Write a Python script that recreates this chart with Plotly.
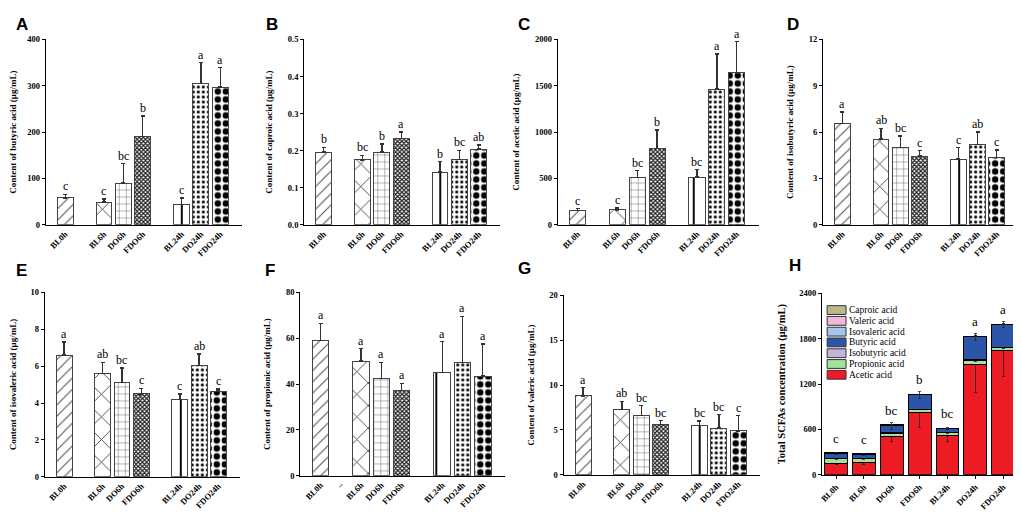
import plotly.graph_objects as go
from plotly.subplots import make_subplots

groups = ['BL0h', 'BL6h', 'DO6h', 'FDO6h', 'BL24h', 'DO24h', 'FDO24h']
slots = [0, 2, 3, 4, 6, 7, 8]

butyric = [58, 49, 90, 190, 44, 305, 297]
butyric_err = [8, 7, 42, 45, 14, 45, 42]
butyric_sig = ['c', 'c', 'bc', 'b', 'c', 'a', 'a']

caproic = [0.196, 0.175, 0.196, 0.232, 0.142, 0.176, 0.204]
caproic_err = [0.013, 0.012, 0.022, 0.018, 0.028, 0.025, 0.011]
caproic_sig = ['b', 'bc', 'b', 'a', 'b', 'bc', 'ab']

acetic = [155, 160, 510, 825, 515, 1465, 1640]
acetic_err = [20, 20, 75, 200, 80, 380, 335]
acetic_sig = ['c', 'c', 'bc', 'b', 'bc', 'a', 'a']

isobutyric = [6.55, 5.55, 5.0, 4.45, 4.25, 5.2, 4.35]
isobutyric_err = [0.75, 0.7, 0.75, 0.35, 0.75, 0.8, 0.5]
isobutyric_sig = ['a', 'ab', 'bc', 'c', 'c', 'ab', 'c']

isovaleric = [6.6, 5.6, 5.1, 4.5, 4.2, 6.05, 4.65]
isovaleric_err = [0.7, 0.6, 0.8, 0.3, 0.3, 0.6, 0.12]
isovaleric_sig = ['a', 'ab', 'bc', 'c', 'c', 'ab', 'c']

propionic = [59, 50, 42.5, 37.3, 45, 49.5, 43.5]
propionic_err = [7.5, 5.5, 7, 3, 13.5, 20, 14]
propionic_sig = ['a', 'a', 'a', 'a', 'a', 'a', 'a']

valeric = [8.8, 7.3, 6.6, 5.6, 5.5, 5.2, 4.9]
valeric_err = [0.9, 0.9, 1.1, 0.45, 0.5, 1.5, 1.7]
valeric_sig = ['a', 'ab', 'bc', 'bc', 'bc', 'bc', 'c']

total_sig = ['c', 'c', 'bc', 'b', 'bc', 'a', 'a']

SERIF = 'Liberation Serif'
SANS = 'Liberation Sans'

# one pattern per group, same order as groups
pat_shape = ['/', 'x', '+', 'x', '|', '.', '.']
pat_size = [8, 16, 7, 3, 16, 5, 8]
pat_solid = [0.14, 0.1, 0.12, 0.65, 0.12, 0.3, 0.5]
pat_fg = ['#555', '#333', '#555', '#222', '#000', '#000', '#000']

panels = [
    ('A', butyric, butyric_err, butyric_sig, 'Content of butyric acid (μg/mL)', [0, 400], 100, None),
    ('B', caproic, caproic_err, caproic_sig, 'Content of caproic acid (μg/mL)', [0, 0.5], 0.1, '.1f'),
    ('C', acetic, acetic_err, acetic_sig, 'Content of acetic acid (μg/mL)', [0, 2000], 500, None),
    ('D', isobutyric, isobutyric_err, isobutyric_sig, 'Content of isobutyric acid (μg/mL)', [0, 12], 3, None),
    ('E', isovaleric, isovaleric_err, isovaleric_sig, 'Content of isovaleric acid (μg/mL)', [0, 10], 2, None),
    ('F', propionic, propionic_err, propionic_sig, 'Content of propionic acid (μg/mL)', [0, 80], 20, None),
    ('G', valeric, valeric_err, valeric_sig, 'Content of valeric acid (μg/mL)', [0, 20], 5, None),
]

# page body has an 8px margin, so the figure is shrunk and shifted by it
OFF = 8
W, H = 1021 - OFF, 519 - OFF


def px(x):
    return (x - OFF) / W


def py(y):
    return 1 - (y - OFF) / H


# plot areas in screen pixels: left, right, top, bottom
boxes = [
    (40, 237, 35, 224), (300, 497, 35, 224), (555, 757, 35, 224), (822, 1018, 35, 224),
    (39, 235, 293, 481), (296, 502, 293, 480), (561, 758, 296, 479), (821, 1017, 294, 479),
]
letter_pos = [(8, 8), (259, 8), (513, 8), (784, 8), (8, 259), (258, 259), (513, 257), (786, 254)]

fig = make_subplots(rows=2, cols=4)

for i, (lab, vals, errs, sig, title, yr, dt, fmt) in enumerate(panels):
    r, c = i // 4 + 1, i % 4 + 1
    fig.add_trace(go.Bar(
        x=slots, y=vals, width=0.82,
        marker=dict(
            color='white',
            line=dict(color='#444', width=1),
            pattern=dict(shape=pat_shape, size=pat_size, solidity=pat_solid,
                         fgcolor=pat_fg, bgcolor='white', fillmode='replace', fgopacity=1),
        ),
        error_y=dict(type='data', symmetric=False, array=errs, arrayminus=[0] * 7,
                     color='#333', thickness=1.4, width=2),
        showlegend=False,
    ), row=r, col=c)
    for s, v, e, t in zip(slots, vals, errs, sig):
        fig.add_annotation(x=s, y=v + e, text=t, showarrow=False, yanchor='bottom', yshift=-1,
                           font=dict(family=SERIF, size=12, color='#000'), row=r, col=c)
    tv, tt = list(slots), list(groups)
    if lab == 'F':
        tv, tt = [0, 1] + slots[1:], ['BL0h', '–'] + groups[1:]
    fig.update_xaxes(range=[-1, 9.1], tickvals=tv, ticktext=tt, tickangle=-45, row=r, col=c)
    fig.update_yaxes(range=yr, dtick=dt, tickformat=fmt,
                     title=dict(text=title, font=dict(family=SERIF, size=9, color='black', weight='bold'),
                                standoff=13),
                     row=r, col=c)

# H: stacked totals
stack = [
    ('Acetic acid', acetic, acetic_err, '#ED1C24'),
    ('Propionic acid', propionic, propionic_err, '#A3E29C'),
    ('Isobutyric acid', isobutyric, isobutyric_err, '#C4B4DA'),
    ('Butyric acid', butyric, butyric_err, '#2B55A8'),
    ('Isovaleric acid', isovaleric, isovaleric_err, '#A4C6EC'),
    ('Valeric acid', valeric, valeric_err, '#F2B8DA'),
    ('Caproic acid', caproic, caproic_err, '#B9B989'),
]
for name, vals, errs, col in stack:
    fig.add_trace(go.Bar(
        x=groups, y=vals, name=name, width=0.82, showlegend=False,
        marker=dict(color=col, line=dict(color='black', width=1)),
        error_y=dict(type='data', array=errs, color='#222', thickness=0.8, width=1.5),
    ), row=2, col=4)

totals = [sum(v[k] for _, v, _, _ in stack) for k in range(7)]
for g, t, s in zip(groups, totals, total_sig):
    fig.add_annotation(x=g, y=t, text=s, showarrow=False, yanchor='bottom', yshift=5,
                       font=dict(family=SERIF, size=13, color='#000'), row=2, col=4)
fig.update_xaxes(tickangle=-45, ticks='outside', ticklen=3, row=2, col=4)
fig.update_yaxes(range=[0, 2400], dtick=600,
                 title=dict(text='Total SCFAs concentration (μg/mL)',
                            font=dict(family=SERIF, size=10.5, color='black', weight='bold'), standoff=11),
                 row=2, col=4)

# hand-drawn legend inside panel H (top item first)
leg_x, leg_y, leg_step = 826, 311, 11
for k, (name, _, _, col) in enumerate(reversed(stack)):
    yc = leg_y + k * leg_step
    fig.add_shape(type='rect', xref='paper', yref='paper',
                  x0=px(leg_x), x1=px(leg_x + 19), y0=py(yc + 4.5), y1=py(yc - 4.5),
                  fillcolor=col, line=dict(color='#333', width=1))
    fig.add_annotation(xref='paper', yref='paper', x=px(leg_x + 20), y=py(yc),
                       text=name, showarrow=False, xanchor='left', yanchor='middle',
                       font=dict(family=SERIF, size=9.5, color='black'))

fig.update_xaxes(showline=True, linecolor='black', linewidth=1.3, showgrid=False, zeroline=False,
                 tickfont=dict(family=SERIF, size=8.5, color='black', weight='bold'),
                 tickcolor='black')
fig.update_yaxes(showline=True, linecolor='black', linewidth=1.3, showgrid=False, zeroline=False,
                 ticks='outside', ticklen=3, tickcolor='black',
                 tickfont=dict(family=SERIF, size=8.5, color='black', weight='bold'))

for i, (l, rgt, t, b) in enumerate(boxes):
    sfx = '' if i == 0 else str(i + 1)
    fig.layout['xaxis' + sfx].domain = [px(l), px(rgt)]
    fig.layout['yaxis' + sfx].domain = [py(b), py(t)]

for lab, (lx, ly) in zip('ABCDEFGH', letter_pos):
    fig.add_annotation(xref='paper', yref='paper', x=px(lx), y=py(ly), text=lab,
                       showarrow=False, xanchor='left', yanchor='top',
                       font=dict(family=SANS, size=17, color='black', weight='bold'))

fig.update_layout(
    width=W, height=H, margin=dict(l=0, r=0, t=0, b=0),
    paper_bgcolor='white', plot_bgcolor='white',
    barmode='stack', showlegend=False,
)

fig.write_html('out.html')
